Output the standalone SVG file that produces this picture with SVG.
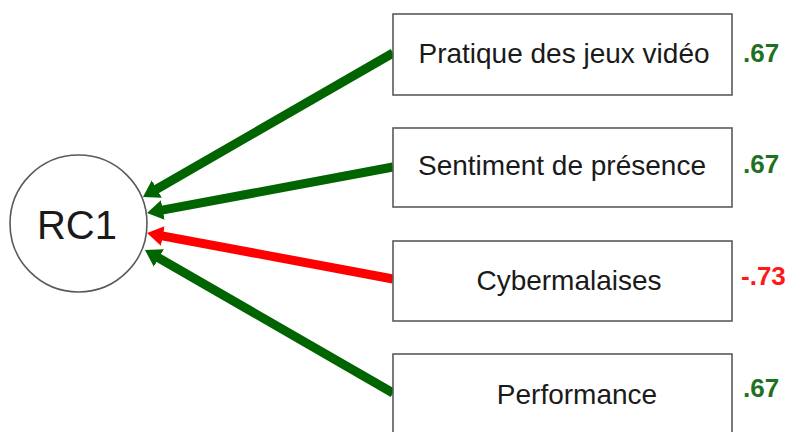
<svg xmlns="http://www.w3.org/2000/svg" width="787" height="432" viewBox="0 0 787 432">
<style>
.box{fill:#fff;stroke:#5a5a5a;stroke-width:1.6}
.lbl{font-family:"Liberation Sans",Arial,sans-serif;font-size:28px;fill:#1a1a1a}
.val{font-family:"Liberation Sans",Arial,sans-serif;font-size:26px;font-weight:bold}
.g{fill:#1f701f}
.r{fill:#ff1a1a}
.cg{fill:none;stroke:#006400;stroke-width:9}
.cr{fill:none;stroke:#ff0000;stroke-width:9}
</style>
<defs>
<marker id="ahg" markerUnits="userSpaceOnUse" markerWidth="20" markerHeight="22" viewBox="0 -11 20 22" refX="2" refY="0" orient="auto">
<path d="M0,-10 L16,0 L0,10 z" fill="#006400"/>
</marker>
<marker id="ahr" markerUnits="userSpaceOnUse" markerWidth="20" markerHeight="22" viewBox="0 -11 20 22" refX="2" refY="0" orient="auto">
<path d="M0,-10 L16,0 L0,10 z" fill="#ff0000"/>
</marker>
</defs>
<rect width="787" height="432" fill="#fff"/>
<g id="connectors">
<path class="cg" d="M393,53 L155.1,190" marker-end="url(#ahg)"/>
<path class="cg" d="M393,167 L160.8,210.4" marker-end="url(#ahg)"/>
<path class="cr" d="M393,279 L160.8,235.6" marker-end="url(#ahr)"/>
<path class="cg" d="M393,393 L157.1,257" marker-end="url(#ahg)"/>
</g>
<g id="RC1">
<circle cx="78.5" cy="223.5" r="68.5" fill="#fff" stroke="#5a5a5a" stroke-width="1.6"/>
<text x="77" y="239" text-anchor="middle" font-family="Liberation Sans, Arial, sans-serif" font-size="40" fill="#1a1a1a">RC1</text>
</g>
<g id="n1">
<rect class="box" x="393" y="14" width="339" height="81"/>
<text class="lbl" x="564" y="63" text-anchor="middle">Pratique des jeux vidéo</text>
<text class="val g" x="743" y="62">.67</text>
</g>
<g id="n2">
<rect class="box" x="393" y="128" width="339" height="79"/>
<text class="lbl" x="562" y="175" text-anchor="middle">Sentiment de présence</text>
<text class="val g" x="743" y="173">.67</text>
</g>
<g id="n3">
<rect class="box" x="393" y="241" width="339" height="80"/>
<text class="lbl" x="569" y="290" text-anchor="middle">Cybermalaises</text>
<text class="val r" x="741" y="285">-.73</text>
</g>
<g id="n4">
<rect class="box" x="393" y="354" width="339" height="81"/>
<text class="lbl" x="577" y="404" text-anchor="middle">Performance</text>
<text class="val g" x="743" y="397">.67</text>
</g>
</svg>
